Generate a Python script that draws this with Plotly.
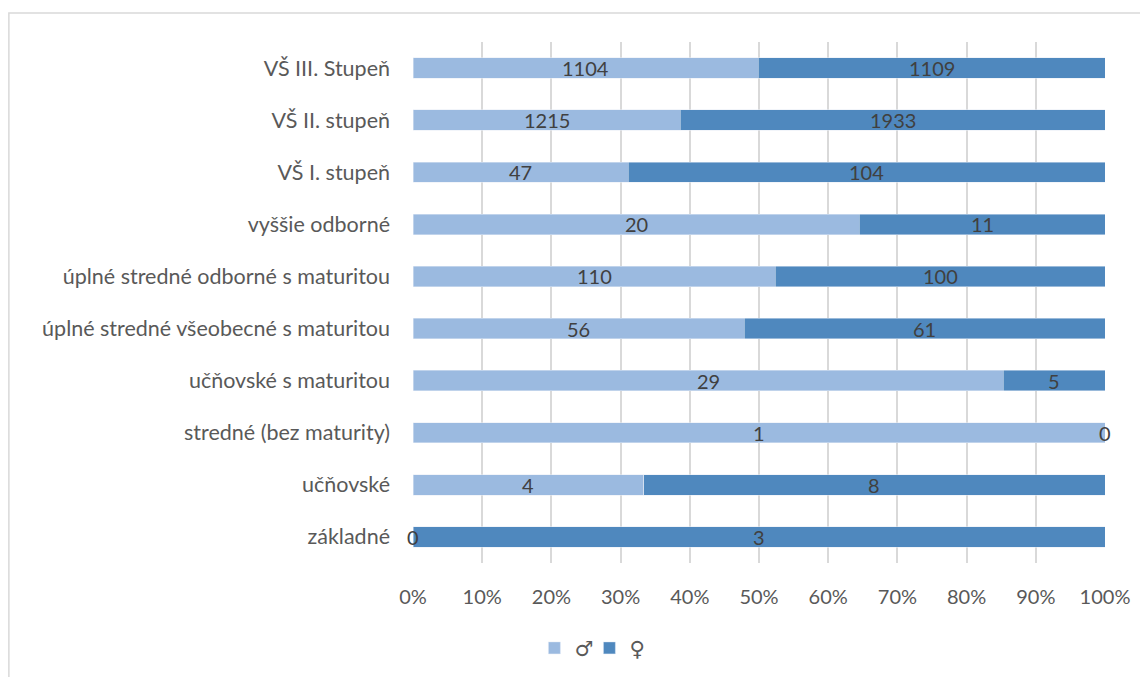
import plotly.graph_objects as go

categories = [
    "základné",
    "učňovské",
    "stredné (bez maturity)",
    "učňovské s maturitou",
    "úplné stredné všeobecné s maturitou",
    "úplné stredné odborné s maturitou",
    "vyššie odborné",
    "VŠ I. stupeň",
    "VŠ II. stupeň",
    "VŠ III. Stupeň",
]
male = [0, 4, 1, 29, 56, 110, 20, 47, 1215, 1104]
female = [3, 8, 0, 5, 61, 100, 11, 104, 1933, 1109]
tick_vals = list(range(0, 101, 10))
tick_text = [f"{v}%" for v in tick_vals]

c_male = "#9BBAE0"
c_female = "#4F88BE"
txt = "#404040"
axis_txt = "#595959"
font_family = "Lato, Open Sans, sans-serif"

fig = go.Figure()
fig.add_trace(go.Bar(y=categories, x=male, orientation="h", name="♂",
                     marker_color=c_male, width=0.39))
fig.add_trace(go.Bar(y=categories, x=female, orientation="h", name="♀",
                     marker_color=c_female, width=0.39))

# data labels centred in each segment (percent scale)
for cat, m, f in zip(categories, male, female):
    tot = m + f
    pm = 100 * m / tot
    pf = 100 * f / tot
    fig.add_annotation(x=pm / 2, y=cat, text=str(m), showarrow=False,
                       font=dict(size=20, color=txt))
    fig.add_annotation(x=pm + pf / 2, y=cat, text=str(f), showarrow=False,
                       font=dict(size=20, color=txt))

# outer chart border (cropped screenshot)
fig.add_shape(type="rect", xref="paper", yref="paper",
              x0=-0.584, y0=-0.6, x1=1.2, y1=1.0557,
              line=dict(color="#D9D9D9", width=1.5), layer="below")

fig.update_layout(
    barmode="stack",
    barnorm="percent",
    width=1140, height=669,
    margin=dict(l=405, r=43, t=34, b=114, autoexpand=False),
    plot_bgcolor="white", paper_bgcolor="white",
    font=dict(family=font_family, size=20, color=axis_txt),
    showlegend=True,
    legend=dict(orientation="h", xref="container", yref="container",
                x=0.51, xanchor="center", y=0.043, yanchor="middle",
                font=dict(family="DejaVu Sans", size=21, color=axis_txt),
                itemwidth=30, entrywidth=10, traceorder="normal"),
    xaxis=dict(range=[0, 100], tickvals=tick_vals, ticktext=tick_text,
               showgrid=True, gridcolor="#D9D9D9",
               gridwidth=1.5, zeroline=False, showline=False,
               ticks="", ticklabelstandoff=20, fixedrange=True),
    yaxis=dict(categoryorder="array", categoryarray=categories,
               showgrid=False, zeroline=False, showline=False,
               ticks="", ticklabelstandoff=22,
               tickfont=dict(size=21.5)),
)

fig.write_html("out.html")
